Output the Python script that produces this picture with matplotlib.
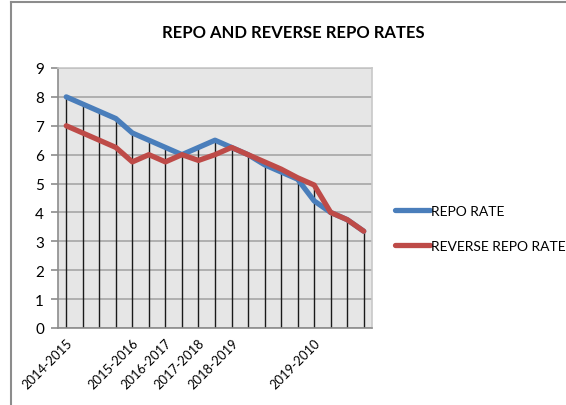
import numpy as np
import matplotlib
matplotlib.use("Agg")
import matplotlib.pyplot as plt
from matplotlib import font_manager
from matplotlib.lines import Line2D
from matplotlib.transforms import ScaledTranslation

# Calibri-like look: prefer a narrow face when one is installed
installed = {f.name for f in font_manager.fontManager.ttflist}
NARROW = "Liberation Sans Narrow" if "Liberation Sans Narrow" in installed else "Lato"
plt.rcParams["font.family"] = ["Lato", "DejaVu Sans"]

# ------------------------------------------------------------------ #
#  Data                                       #
# ------------------------------------------------------------------ #
year_labels = ["2014-2015", "", "", "", "2015-2016", "", "2016-2017", "",
               "2017-2018", "", "2018-2019", "", "", "", "", "2019-2010",
               "", "", ""]
repo_rate = [8.0, 7.75, 7.5, 7.25, 6.75, 6.5, 6.25, 6.0, 6.25, 6.5,
             6.25, 6.0, 5.65, 5.4, 5.15, 4.4, 4.0, 3.75, 3.35]
reverse_repo_rate = [7.0, 6.75, 6.5, 6.25, 5.75, 6.0, 5.75, 6.0, 5.8, 6.0,
                     6.25, 6.0, 5.75, 5.5, 5.2, 4.95, 4.0, 3.75, 3.35]
y_ticks = list(range(0, 10))

BLUE = "#4a7ebb"
RED = "#be4b48"

fig = plt.figure(figsize=(5.66, 4.06), dpi=100)
ax = fig.add_axes([58 / 566, 1 - 329 / 406, 314 / 566, 260 / 406])

x = np.arange(len(year_labels))
repo = np.array(repo_rate)
rev = np.array(reverse_repo_rate)

ax.set_facecolor("#e6e6e6")
ax.set_xlim(-0.5, len(x) - 0.5)
ax.set_ylim(0, 9)
ax.set_yticks(y_ticks)
ax.yaxis.grid(True, color="#a6a6a6", lw=1.2)
ax.set_axisbelow(True)

# drop lines
ax.vlines(x, 0, np.maximum(repo, rev), color="#1a1a1a", lw=1.0, zorder=2)

ax.plot(x, repo, color=BLUE, lw=3.8, solid_joinstyle="round",
        solid_capstyle="round", zorder=3)
ax.plot(x, rev, color=RED, lw=3.8, solid_joinstyle="round",
        solid_capstyle="round", zorder=4)

ax.set_xticks(x)
ax.set_xticklabels(year_labels, rotation=45, ha="right",
                   rotation_mode="anchor", fontsize=9.3, family=NARROW)
shift = ScaledTranslation(4 / 100, -2 / 100, fig.dpi_scale_trans)
for lab in ax.get_xticklabels():
    lab.set_transform(lab.get_transform() + shift)
ax.tick_params(axis="x", length=0, pad=6)
ax.tick_params(axis="y", length=5, color="#8c8c8c", width=1.2,
               labelsize=11, pad=5)

for side in ["top", "right"]:
    ax.spines[side].set_color("#c8c8c8")
ax.spines["left"].set_color("#8c8c8c")
ax.spines["bottom"].set_color("#8c8c8c")
for s in ax.spines.values():
    s.set_linewidth(1.2)

fig.text(293 / 566, 1 - 33 / 406, "REPO AND REVERSE REPO RATES",
         ha="center", va="center", fontsize=12, fontweight="bold",
         family=NARROW)

handles = [Line2D([], [], color=BLUE, lw=3.8, solid_capstyle="round"),
           Line2D([], [], color=RED, lw=3.8, solid_capstyle="round")]
fig.legend(handles, ["REPO RATE", "REVERSE REPO RATE"], loc="center left",
           bbox_to_anchor=(395 / 566, 1 - 229.5 / 406), frameon=False,
           prop={"family": NARROW, "size": 10.5 if NARROW != "Lato" else 10},
           handlelength=2.5, handletextpad=0.1,
           labelspacing=1.65, borderpad=0, borderaxespad=0)

# outer chart frame (only top and left edges visible)
fig.add_artist(Line2D([11 / 566, 11 / 566], [0, 1 - 3 / 406],
                      transform=fig.transFigure, color="#8c8c8c", lw=1.5))
fig.add_artist(Line2D([11 / 566, 1], [1 - 3 / 406, 1 - 3 / 406],
                      transform=fig.transFigure, color="#8c8c8c", lw=1.5))

fig.savefig("out.png", dpi=100)
